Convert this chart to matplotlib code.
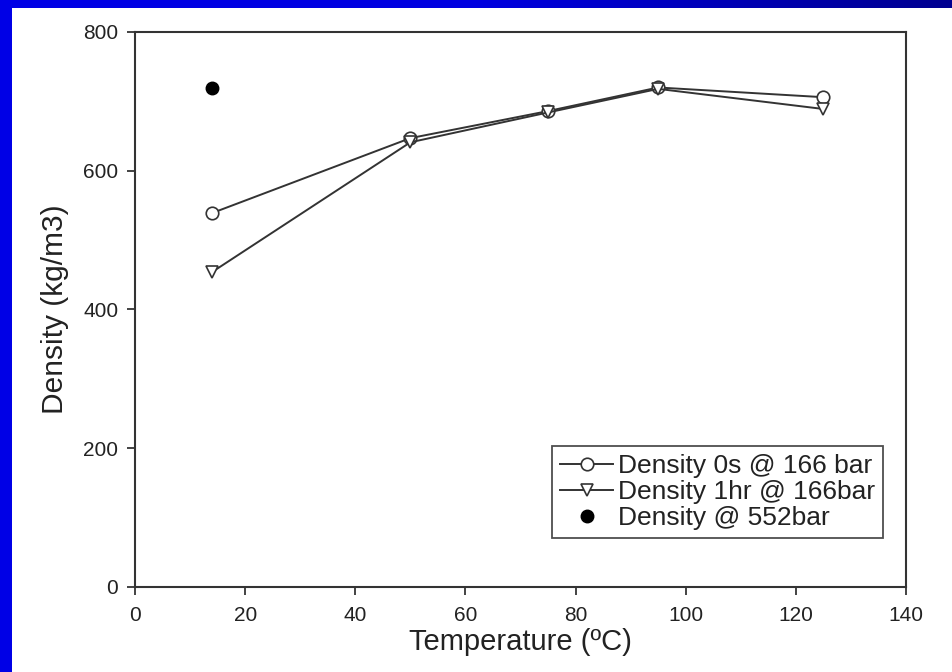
import matplotlib.pyplot as plt
import numpy as np
from matplotlib.colors import LinearSegmentedColormap

plt.rcParams['font.family'] = ['Liberation Sans', 'DejaVu Sans']

# data
temperature = [14, 50, 75, 95, 125]
density_0s = [539, 647, 686, 720, 706]
density_1hr = [454, 641, 684, 718, 689]
temp_552 = [14]
density_552 = [719]

x_ticks = [0, 20, 40, 60, 80, 100, 120, 140]
y_ticks = [0, 200, 400, 600, 800]

fig = plt.figure(figsize=(9.52, 6.72), dpi=100)
fig.patch.set_facecolor('white')

# blue slide frame: left strip and top band (gradient towards navy)
frame = fig.add_axes([0, 0, 1, 1], zorder=-10)
frame.set_xlim(0, 952)
frame.set_ylim(672, 0)
frame.axis('off')
frame.add_patch(plt.Rectangle((0, 0), 12, 672, color='#0000e6', lw=0))
grad = np.linspace(0, 1, 256).reshape(1, -1)
cmap = LinearSegmentedColormap.from_list('band', ['#0000e6', '#0000e0', '#000090'])
frame.imshow(grad, extent=[0, 952, 8, 0], cmap=cmap, aspect='auto')

ax = fig.add_axes([0.1418, 0.1265, 0.8099, 0.8259])
line_color = '#333333'
ax.plot(temperature, density_0s, color=line_color, lw=1.4, marker='o',
        ms=9, mfc='white', mec=line_color, mew=1.2, label='Density 0s @ 166 bar')
ax.plot(temperature, density_1hr, color=line_color, lw=1.4, marker='v',
        ms=9, mfc='white', mec=line_color, mew=1.2, label='Density 1hr @ 166bar')
ax.plot(temp_552, density_552, ls='none', marker='o', ms=9, color='black',
        label='Density @ 552bar')

ax.set_xlim(0, 140)
ax.set_ylim(0, 800)
ax.set_xticks(x_ticks)
ax.set_yticks(y_ticks)
ax.tick_params(direction='out', length=6, width=1.2, labelsize=15,
               colors='#222222', pad=6)
ax.tick_params(axis='x', pad=8)
for s in ax.spines.values():
    s.set_linewidth(1.5)
    s.set_color('#333333')

ax.set_xlabel('Temperature (ºC)', fontsize=21, color='#222222', labelpad=2)
ax.set_ylabel('Density (kg/m3)', fontsize=21.5, color='#222222', labelpad=10)

leg = ax.legend(loc='lower right', bbox_to_anchor=(0.9706, 0.0877),
                fontsize=19, frameon=True, fancybox=False, borderpad=0.3,
                labelspacing=0.08, handlelength=2.0, handletextpad=0.2,
                borderaxespad=0)
leg.get_frame().set_edgecolor('#222222')
leg.get_frame().set_linewidth(1.3)
for t in leg.get_texts():
    t.set_color('#222222')

fig.savefig('out.png', dpi=100)
